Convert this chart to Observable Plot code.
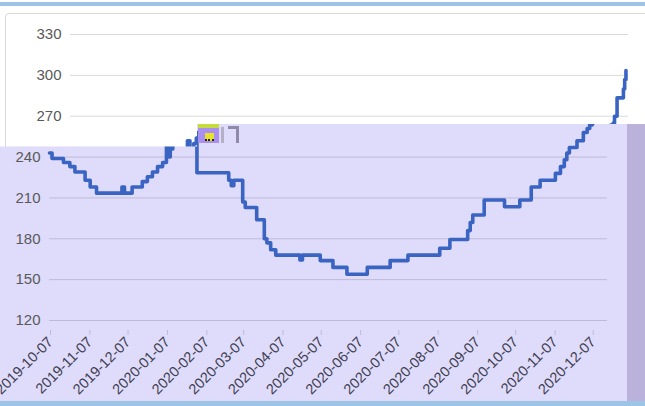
<!DOCTYPE html>
<html>
<head>
<meta charset="utf-8">
<script src="https://cdn.jsdelivr.net/npm/d3@7"></script>
<script src="https://cdn.jsdelivr.net/npm/@observablehq/plot@0.6"></script>
<style>
  html, body { margin: 0; padding: 0; background: #ffffff; }
  #stage { position: relative; width: 645px; height: 406px; overflow: hidden; background: #ffffff; }
  .layer { position: absolute; left: 0; top: 0; width: 645px; height: 406px; }
  #topbar { position: absolute; left: 0; top: 2px; width: 645px; height: 4px; background: #9dc3e6; }
  #botbar { position: absolute; left: 0; top: 401px; width: 645px; height: 5px; background: #9dc3e6; }
  #frame { position: absolute; left: 5px; top: 13px; width: 660px; height: 300px; border: 1px solid #d9d9d9; border-radius: 4px; }
  #lav { background: rgb(223,219,251);
    clip-path: polygon(0px 146.5px, 197px 146.5px, 197px 124px, 627px 124px, 627px 401px, 0px 401px); }
  #strip { position: absolute; left: 627px; top: 124px; width: 18px; height: 277px; background: rgb(186,178,218); }
  #topchart { clip-path: polygon(0px 0px, 645px 0px, 645px 124px, 197px 124px, 197px 146.5px, 0px 146.5px); }
  #botchart { clip-path: polygon(0px 146.5px, 197px 146.5px, 197px 124px, 627px 124px, 627px 406px, 0px 406px); }
  .art { position: absolute; }
</style>
</head>
<body>
<div id="stage">
  <div id="topbar"></div>
  <div id="frame"></div>
  <div id="lav" class="layer"></div>
  <div id="strip"></div>
  <div id="botbar"></div>
  <div id="botchart" class="layer"></div>
  <div id="topchart" class="layer"></div>
  <div class="art" style="left:198px;top:124px;width:21px;height:19px;background:#a98ff0;border-top:4px solid #c6dc3e;box-sizing:border-box;"></div>
  <div class="art" style="left:205px;top:133px;width:9px;height:6px;background:#e6e22a;border-bottom:2px dotted #222;"></div>
  <div class="art" style="left:221px;top:127px;width:3px;height:16px;background:#b4b0c8;"></div>
  <div class="art" style="left:228px;top:126px;width:11px;height:3px;background:#8e8aa8;"></div>
  <div class="art" style="left:236px;top:126px;width:3px;height:17px;background:#8e8aa8;"></div>
</div>
<script>
// ---- data ----
const changeDates = ["2019-10-07","2019-10-09","2019-10-18","2019-10-23","2019-10-27","2019-11-04","2019-11-08","2019-11-13","2019-12-03","2019-12-05","2019-12-11","2019-12-19","2019-12-23","2019-12-27","2019-12-31","2020-01-04","2020-01-07","2020-01-09","2020-01-10","2020-01-12","2020-01-14","2020-01-17","2020-01-31","2020-02-25","2020-02-27","2020-02-29","2020-03-07","2020-03-09","2020-03-18","2020-03-24","2020-03-26","2020-03-29","2020-04-02","2020-04-21","2020-04-23","2020-05-07","2020-05-17","2020-05-28","2020-06-13","2020-07-01","2020-07-15","2020-08-09","2020-08-17","2020-08-31","2020-09-02","2020-09-04","2020-09-13","2020-09-29","2020-10-11","2020-10-20","2020-10-27","2020-11-08","2020-11-12","2020-11-15","2020-11-17","2020-11-19","2020-11-25","2020-11-30","2020-12-03","2020-12-05","2020-12-07","2020-12-08","2020-12-10","2020-12-15","2020-12-16","2020-12-17"];
const prices = [243,239,236,233,229,223,218,213.5,218,213.5,218,222,225.5,229,233,236,252,240,246,250,254,258,228.5,223,219,223,207,203,194,180,177,172,168,164.5,168,164,159,154,159,164,168,173,179.5,186,192,197.5,208.5,203.5,208.5,218,223,228,233,238,243,247,252,258,261,263.5,265,270,283.5,290,297,303.5];
const yTicks = [120,150,180,210,240,270,300,330];
const yTicksUpper = [270,300,330];   // labels shown in the upper (white) part
const yTicksLower = [120,150,180,210,240]; // labels shown in the lower (lavender) part
const xTickLabels = ["2019-10-07","2019-11-07","2019-12-07","2020-01-07","2020-02-07","2020-03-07","2020-04-07","2020-05-07","2020-06-07","2020-07-07","2020-08-07","2020-09-07","2020-10-07","2020-11-07","2020-12-07"];
const xDomain = ["2019-10-07","2020-12-19"];

const parse = d3.utcParse("%Y-%m-%d");
const fmt = d3.utcFormat("%Y-%m-%d");
const series = changeDates.map((d, i) => ({date: parse(d), price: prices[i]}));
const xTicks = xTickLabels.map(parse);

function chart(ml, mr, labelTicks, withX) {
  const marks = [
    Plot.gridY(yTicks, {stroke: "#000", strokeOpacity: 0.15, strokeWidth: 1}),
    Plot.axisY(labelTicks, {tickSize: 0, tickPadding: 9, label: null, fontSize: 15, fill: "#595959"})
  ];
  if (withX) {
    marks.push(Plot.axisX(xTicks, {tickSize: 5, stroke: "#000", strokeOpacity: 0.15, tickRotate: -45, tickFormat: fmt, label: null, fontSize: 14.5, fill: "#404050", tickPadding: 4, dx: 1, dy: 10}));
  }
  marks.push(Plot.line(series, {x: "date", y: "price", curve: "step-after", stroke: "#3a64c2", strokeWidth: 3.6, strokeLinejoin: "round", strokeLinecap: "round"}));
  return Plot.plot({
    width: 645,
    height: 406,
    marginLeft: ml,
    marginRight: mr,
    marginTop: 34,
    marginBottom: 86,
    style: {background: "transparent", fontFamily: "'Liberation Sans', Arial, sans-serif", fontSize: "15px", color: "#595959", overflow: "visible"},
    x: {type: "utc", domain: xDomain.map(parse)},
    y: {domain: [120, 330]},
    marks
  });
}

document.getElementById("botchart").appendChild(chart(49, 38, yTicksLower, true));
document.getElementById("topchart").appendChild(chart(70, 17, yTicksUpper, false));
</script>
</body>
</html>
